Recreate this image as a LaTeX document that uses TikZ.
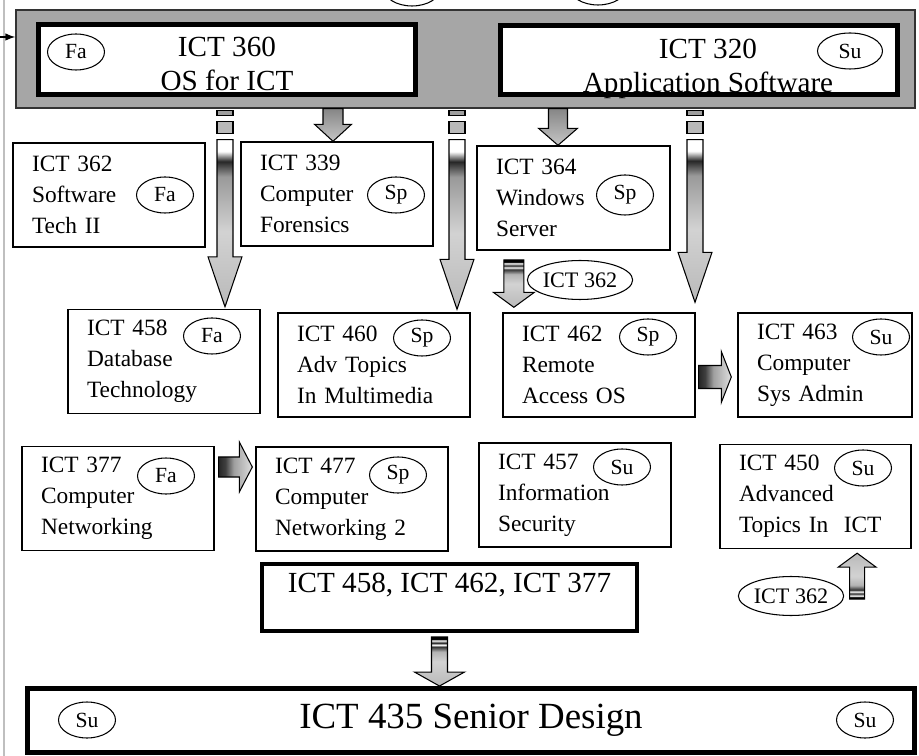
\documentclass[tikz,border=0pt]{standalone}
\usepackage{fontspec}
\setmainfont{Liberation Serif}
\usepackage{tikz}
\usetikzlibrary{arrows.meta,calc,shapes.geometric}
\newcommand{\coursefont}{\fontsize{13.3}{17.6}\selectfont}
\newcommand{\tagfont}{\fontsize{12.3}{13}\selectfont}
\newcommand{\topfont}{\fontsize{16.6}{19.8}\selectfont}

\pgfdeclareverticalshading{chromedown}{100bp}{color(0bp)=(gray!55); color(25bp)=(gray!55); color(47.5bp)=(gray!35); color(64bp)=(gray!80); color(68.5bp)=(black!85); color(71.5bp)=(white); color(100bp)=(white)}
\pgfdeclareverticalshading{graydown}{100bp}{color(0bp)=(gray!45); color(25bp)=(gray!45); color(75bp)=(gray!95); color(100bp)=(gray!95)}
\pgfdeclareverticalshading{stripedown}{100bp}{color(0bp)=(gray!55); color(25bp)=(gray!55); color(50bp)=(gray!35); color(60bp)=(gray!60); color(65bp)=(black!80); color(67bp)=(white); color(69bp)=(black!85); color(71.5bp)=(white); color(73bp)=(black); color(100bp)=(black)}
\pgfdeclareverticalshading{stripeup}{100bp}{color(0bp)=(black); color(27bp)=(black); color(28.5bp)=(white); color(31bp)=(black!85); color(33bp)=(white); color(35bp)=(black!80); color(40bp)=(gray!60); color(50bp)=(gray!35); color(75bp)=(gray!55); color(100bp)=(gray!55)}
\pgfdeclarehorizontalshading{chromeright}{100bp}{color(0bp)=(black!85); color(25bp)=(black!85); color(35bp)=(black!75); color(47.5bp)=(gray!75); color(75bp)=(gray!25); color(100bp)=(gray!25)}

% block arrows: start, tip, half shaft, half head, head length, shading
\newcommand{\vblock}[6]{%
  \path[shading=#6,shade,draw=black,line width=0.6pt]
    ($(#1)+(-#3,0)$) -- ($(#2)+(-#3,{-(#5)})$) -- ($(#2)+(-#4,{-(#5)})$) -- (#2)
    -- ($(#2)+(#4,{-(#5)})$) -- ($(#2)+(#3,{-(#5)})$) -- ($(#1)+(#3,0)$) -- cycle;}
\newcommand{\hblock}[6]{%
  \path[shading=#6,shade,draw=black,line width=0.6pt]
    ($(#1)+(0,-#3)$) -- ($(#2)+({-(#5)},-#3)$) -- ($(#2)+({-(#5)},-#4)$) -- (#2)
    -- ($(#2)+({-(#5)},#4)$) -- ($(#2)+({-(#5)},#3)$) -- ($(#1)+(0,#3)$) -- cycle;}
\newcommand{\longdown}[2]{%
  \draw[line width=0.6pt,fill=gray!75] ($(#1)+(-8,2)$) rectangle ($(#1)+(8,7)$);
  \draw[line width=0.6pt,fill=gray!55] ($(#1)+(-8,13)$) rectangle ($(#1)+(8,25)$);
  \coordinate (#1shaft) at ($(#1)+(0,31)$);
  \vblock{#1shaft}{#2}{8}{17}{50}{chromedown}}

\begin{document}
\begin{tikzpicture}[x=0.02cm,y=-0.02cm,>={Latex[length=2mm]},
  course/.style={draw,line width=0.8pt,fill=white,minimum height=2.08cm,text width=#1,
    inner xsep=0.38cm,inner ysep=0pt,align=left,font=\coursefont},
  course/.default=3.08cm,
  tag/.style={ellipse,draw,line width=0.6pt,fill=white,minimum width=1.14cm,
    minimum height=0.72cm,inner sep=0pt,font=\tagfont},
  pretag/.style={tag,minimum width=1.88cm,minimum height=0.78cm,font=\fontsize{12.6}{13}\selectfont},
  topbox/.style={draw,line width=3pt,fill=white,minimum height=1.39cm,inner sep=0pt}]
  \useasboundingbox (0,0) rectangle (919,756);
  \draw[gray!50,line width=1.1pt] (4,0) -- (4,756);

  % top row
  \node[draw=black!80,line width=0.8pt,fill=gray!70,minimum width=17.98cm,minimum height=1.96cm,inner sep=0pt] (gray) at (465.5,59) {};
  \coordinate (inarr) at (-10,37);
  \draw[->,line width=0.8pt] (inarr) -- (inarr -| gray.west);
  \node[tag] (cutl) at (412,-12) {};
  \node[tag] (cutr) at (598,-13) {};
  \node[topbox,minimum width=7.54cm] (top360) at (227,59.5) {};
  \node[topbox,minimum width=7.94cm] (top320) at (699,60) {};
  \node[font=\topfont,align=center] (lbl360) at (227,64) {ICT 360\\OS for ICT};
  \node[font=\topfont,align=center] (lbl320) at (708,69) {ICT 320\\Application Software};
  \node[tag] (e360) at (76,52) {Fa};
  \node[tag,minimum width=1.3cm] (e320) at (850,51) {Su};

  % courses
  \node[course] (ict362) at (109,195) {ICT 362\\Software\\Tech II};
  \node[course] (ict339) at (337,194) {ICT 339\\Computer\\Forensics};
  \node[course=3.1cm] (ict364) at (573.5,198) {ICT 364\\Windows\\Server};
  \node[course] (ict458) at (164,361.5) {ICT 458\\Database\\Technology};
  \node[course] (ict460) at (374,365) {ICT 460\\Adv Topics\\In Multimedia};
  \node[course] (ict462) at (599,365) {ICT 462\\Remote\\Access OS};
  \node[course=2.72cm] (ict463) at (825,365) {ICT 463\\Computer\\Sys Admin};
  \node[course] (ict377) at (118,498.5) {ICT 377\\Computer\\Networking};
  \node[course] (ict477) at (352,499) {ICT 477\\Computer\\Networking 2};
  \node[course] (ict457) at (575,495) {ICT 457\\Information\\Security};
  \node[course=3.06cm] (ict450) at (815.5,496.5) {ICT 450\\Advanced\\Topics In~ ICT};

  \node[tag] (e362) at (165,195) {Fa};
  \node[tag] (e339) at (396,195) {Sp};
  \node[tag,minimum height=0.8cm] (e364) at (625,195) {Sp};
  \node[tag] (e458) at (212,336) {Fa};
  \node[tag] (e460) at (422,338) {Sp};
  \node[tag] (e462) at (648,337) {Sp};
  \node[tag] (e463) at (881,337) {Su};
  \node[tag] (e377) at (166,476) {Fa};
  \node[tag] (e477) at (398,475) {Sp};
  \node[tag] (e457) at (622,467) {Su};
  \node[tag] (e450) at (863,468) {Su};

  \node[pretag] (pre362a) at (580,280) {ICT 362};
  \node[pretag] (pre362b) at (791,596) {ICT 362};

  % bottom
  \node[draw,line width=2.3pt,minimum width=7.5cm,minimum height=1.34cm] (prereq) at (449.5,597.5) {};
  \node[font=\fontsize{16.6}{19}\selectfont] (prereqtxt) at (449.5,585) {ICT 458, ICT 462, ICT 377};
  \node[draw,line width=2.8pt,minimum width=17.74cm,minimum height=1.28cm,font=\fontsize{21}{24}\selectfont] (senior) at (471,720.5) {ICT 435 Senior Design};
  \node[tag] (e435a) at (87,720) {Su};
  \node[tag] (e435b) at (865,720) {Su};

  % arrows
  \coordinate (c1) at (225,0);
  \coordinate (c2) at (457,0);
  \coordinate (c3) at (695,0);
  \coordinate (c339) at (333,0);
  \coordinate (c364) at (558,0);
  \coordinate (a1) at (c1 |- gray.south);
  \coordinate (a2) at (c2 |- gray.south);
  \coordinate (a3) at (c3 |- gray.south);
  \coordinate (a1tip) at ($(c1 |- ict458.north)+(0,-2)$);
  \coordinate (a2tip) at ($(c2 |- ict460.north)+(0,-3)$);
  \coordinate (a3tip) at ($(c3 |- ict462.north)+(0,-10)$);
  \longdown{a1}{a1tip}
  \longdown{a2}{a2tip}
  \longdown{a3}{a3tip}
  \vblock{c339 |- gray.south}{c339 |- ict339.north}{10}{18.5}{17}{graydown}
  \vblock{c364 |- gray.south}{c364 |- ict364.north}{9.5}{19.5}{17}{graydown}

  \coordinate (s0) at ($(pre362a.west)+(-13,-20)$);
  \coordinate (s1) at ($(s0 |- ict462.north)+(0,-5)$);
  \vblock{s0}{s1}{10}{20.5}{15}{stripedown}

  \coordinate (r1s) at ($(ict462.east)+(3,12)$);
  \coordinate (r1e) at ($(ict463.west)+(-6,12)$);
  \hblock{r1s}{r1e}{11.5}{25.5}{10}{chromeright}
  \coordinate (r2s) at ($(ict377.east)+(4,-31.5)$);
  \coordinate (r2e) at ($(r2s -| ict477.west)+(-3,0)$);
  \hblock{r2s}{r2e}{10}{25}{13}{chromeright}

  \coordinate (u0) at ($(pre362b.east)+(13,3)$);
  \coordinate (u1) at ($(u0 |- ict450.south)+(0,4)$);
  \vblock{u0}{u1}{7.5}{19}{-14}{stripeup}

  \coordinate (d0) at ($(prereq.south)+(-10,4)$);
  \coordinate (d1) at (d0 |- senior.north);
  \vblock{d0}{d1}{8}{25}{14}{stripedown}
\end{tikzpicture}
\end{document}
